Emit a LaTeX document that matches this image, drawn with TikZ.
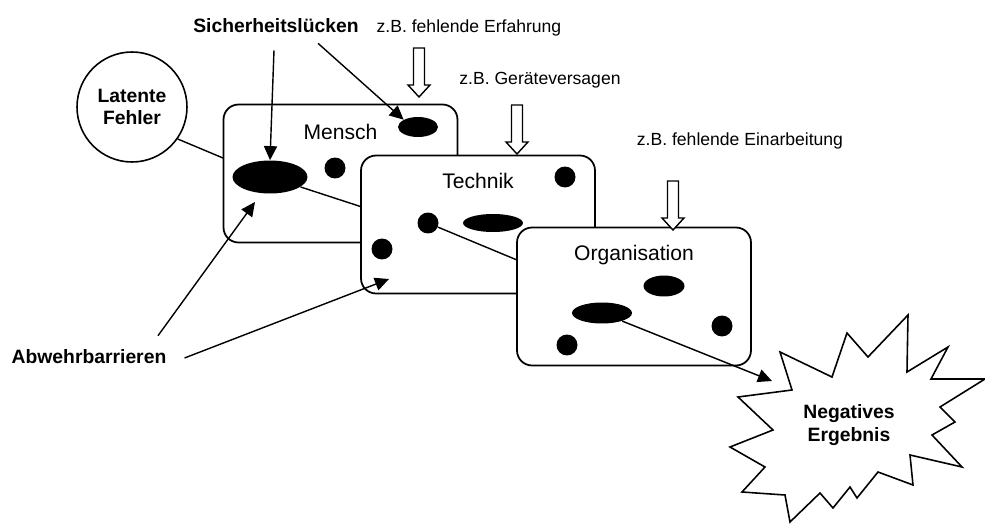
\documentclass[tikz,border=0pt]{standalone}
\usepackage{fontspec}
\setmainfont{Liberation Sans}
\usetikzlibrary{arrows.meta,positioning,calc,shapes.geometric}

\begin{document}
\begin{tikzpicture}[
    x=0.02cm, y=-0.02cm,
    font=\fontsize{10}{12}\selectfont,
    layer/.style={draw, rounded corners=0.3cm, fill=white, line width=1pt,
      minimum width=4.68cm, minimum height=2.76cm},
    title/.style={font=\fontsize{12}{14}\selectfont, inner sep=0pt},
    hole/.style={ellipse, fill=black, inner sep=0pt},
    dot/.style={circle, fill=black, inner sep=0pt, minimum size=.42cm},
    tag/.style={font=\bfseries\fontsize{11}{13}\selectfont, align=center},
    hint/.style={font=\fontsize{10}{12}\selectfont},
    arrow/.style={-{Triangle[length=8pt,width=7.5pt]}, line width=.8pt},
    link/.style={line width=.8pt},
    hollow/.pic={\draw[line width=.8pt, fill=white] (-5.5,0) -- (-5.5,37)
      -- (-11,37) -- (0,49) -- (11,37) -- (5.5,37) -- (5.5,0) -- cycle;}
  ]
    \useasboundingbox (0,0) rectangle (985,524);

    % latent errors
    \node[tag, draw, circle, line width=.9pt, minimum size=2.2cm, inner sep=0pt,
      font=\bfseries\fontsize{11}{13}\selectfont] (latent) at (132,107) {Latente\\Fehler};

    % first slice
    \node[layer] (mensch) at (340.5,173.5) {};
    \node[title] (m-title) at ($(mensch.north)+(0,28)$) {Mensch};
    \node[hole, minimum width=.8cm, minimum height=.4cm] (m-small) at (418,127) {};
    \node[hole, minimum width=1.5cm, minimum height=.66cm] (m-big) at (270,177) {};
    \node[dot] (m-dot) at (335,168) {};
    \coordinate (m-in) at (223,158);
    \draw[link] (latent.-35) -- (m-in);

    % second slice
    \coordinate (t-in) at (362,207);
    \draw[link] (m-big) -- (t-in);
    \node[layer] (technik) at (478,224.5) {};
    \node[title] (t-title) at ($(technik.north)+(0,26)$) {Technik};
    \node[dot] (t-dot1) at (565,177) {};
    \node[dot] (t-dot2) at (428,223) {};
    \node[dot] (t-dot3) at (382,249) {};
    \node[hole, minimum width=1.2cm, minimum height=.36cm] (t-gap) at (493,223) {};

    % third slice
    \coordinate (o-in) at (517,260);
    \draw[link] (t-dot2) -- (o-in);
    \node[layer] (orga) at (634,296.5) {};
    \node[title] (o-title) at ($(orga.north)+(0,28)$) {Organisation};
    \node[hole, minimum width=.82cm, minimum height=.42cm] (o-small) at (664,286) {};
    \node[hole, minimum width=1.2cm, minimum height=.42cm] (o-big) at (602,313) {};
    \node[dot] (o-dot1) at (722,326) {};
    \node[dot] (o-dot2) at (567,345) {};

    % outcome
    \draw[line width=.9pt, fill=white] (738,397) -- (792,390) -- (780,352) -- (832,377)
      -- (847,333) -- (868,357) -- (908,315) -- (907,372) -- (948,347) -- (931,379)
      -- (985,379) -- (940,407) -- (955,422) -- (932,435) -- (962,467) -- (910,455)
      -- (913,485) -- (878,472) -- (857,498) -- (850,487) -- (833,508) -- (820,493)
      -- (790,522) -- (785,495) -- (742,492) -- (765,467) -- (730,447) -- (773,430)
      -- cycle;
    \node[tag, font=\bfseries\fontsize{11}{13.5}\selectfont] (result) at (849,425) {Negatives\\Ergebnis};
    \coordinate (star-hit) at (772,381);
    \draw[arrow] (o-big) -- (star-hit);

    % labels
    \node[tag] (gaps) at (276,26) {Sicherheitslücken};
    \node[tag] (barriers) at (89,357) {Abwehrbarrieren};
    \node[hint] (h-erf) at (469,28) {z.B. fehlende Erfahrung};
    \node[hint] (h-ger) at (540,80) {z.B. Geräteversagen};
    \node[hint] (h-ein) at (740,141) {z.B. fehlende Einarbeitung};

    \pic at (419,48) {hollow};
    \pic at (517,105) {hollow};
    \pic at (673,181) {hollow};

    \draw[arrow] ($(gaps.south)+(-2,11)$) -- (m-big.north);
    \draw[arrow] ($(gaps.south)+(42,4)$) -- (m-small.north west);

    \coordinate (m-hit) at (255,202);
    \coordinate (t-hit) at (389,279);
    \draw[arrow] ($(barriers.north)+(69,-8)$) -- (m-hit);
    \draw[arrow] ($(barriers.east)+(12,1)$) -- (t-hit);
  \end{tikzpicture}
\end{document}
